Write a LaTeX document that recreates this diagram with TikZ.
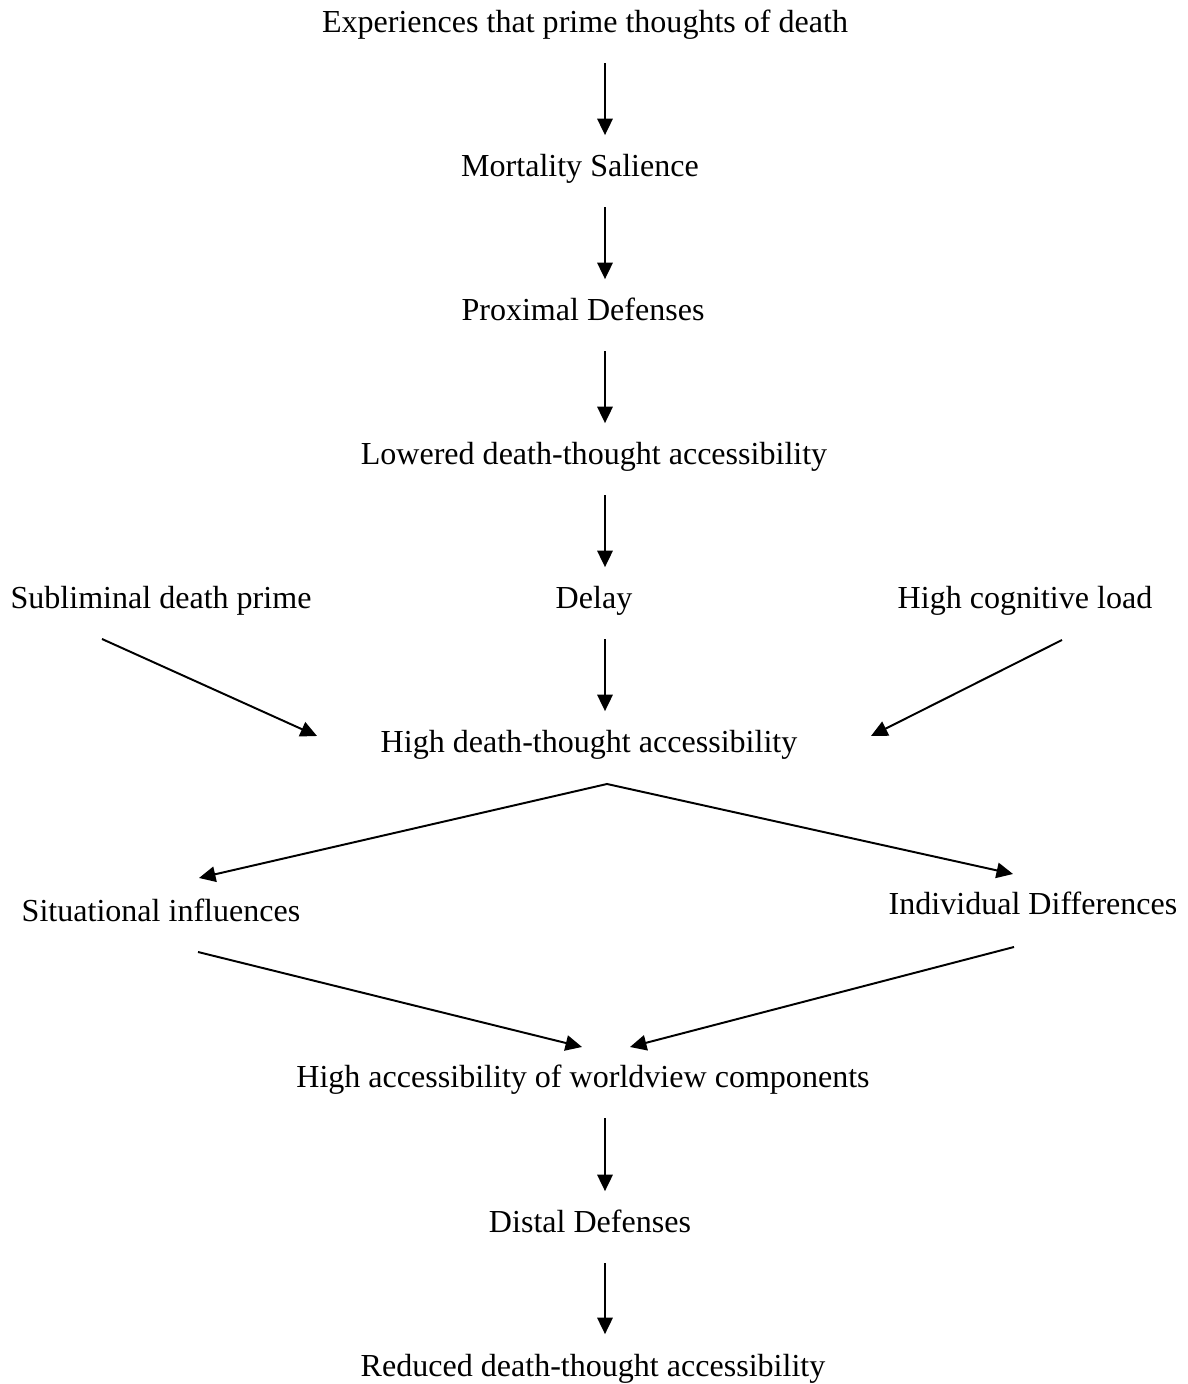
\documentclass[tikz,border=0pt]{standalone}
\usepackage{fontspec}
\setmainfont{Liberation Serif}
\usetikzlibrary{arrows.meta}

\begin{document}
\begin{tikzpicture}[
    x=0.3822pt, y=0.3822pt,
    >={Triangle[length=6.3pt, width=5.9pt]},
    txt/.style={inner sep=0pt, anchor=base, font=\fontsize{12.25}{14}\selectfont},
    arrow/.style={->, line width=0.75pt, color=black},
    vline/.style={arrow, shorten <=11.5pt, shorten >=16pt}
]
    \useasboundingbox (0,0) rectangle (1187,1384);
    \coordinate (col) at (605,0);

    \node[txt] (exp) at (585,1351) {Experiences that prime thoughts of death};
    \node[txt] (mort) at (580,1207) {Mortality Salience};
    \node[txt] (prox) at (583,1063) {Proximal Defenses};
    \node[txt] (lowered) at (594,919) {Lowered death-thought accessibility};
    \node[txt] (subl) at (161,775) {Subliminal death prime};
    \node[txt] (delay) at (594,775) {Delay};
    \node[txt] (load) at (1025,775) {High cognitive load};
    \node[txt] (hdta) at (589,631) {High death-thought accessibility};
    \node[txt] (situ) at (161,462) {Situational influences};
    \node[txt] (indiv) at (1033,469) {Individual Differences};
    \node[txt] (worldv) at (583,296) {High accessibility of worldview components};
    \node[txt] (distal) at (590,151) {Distal Defenses};
    \node[txt] (reduced) at (593,8) {Reduced death-thought accessibility};

    \coordinate (split) at ([shift={(18,-31)}]hdta.base);

    \draw[vline] (exp.base -| col) -- (mort.base -| col);
    \draw[vline] (mort.base -| col) -- (prox.base -| col);
    \draw[vline] (prox.base -| col) -- (lowered.base -| col);
    \draw[vline] (lowered.base -| col) -- (delay.base -| col);
    \draw[vline] (delay.base -| col) -- (hdta.base -| col);
    \draw[arrow] ([shift={(-59,-30)}]subl.base) -- ([shift={(-272,17)}]hdta.base);
    \draw[arrow] ([shift={(37,-31)}]load.base) -- ([shift={(282,17)}]hdta.base);
    \draw[arrow, <->] ([shift={(38,44)}]situ.base) -- (split) -- ([shift={(-20,41)}]indiv.base);
    \draw[arrow] ([shift={(37,-30)}]situ.base) -- ([shift={(-1,41)}]worldv.base);
    \draw[arrow] ([shift={(-19,-32)}]indiv.base) -- ([shift={(47,41)}]worldv.base);
    \draw[vline] (worldv.base -| col) -- (distal.base -| col);
    \draw[vline] (distal.base -| col) -- (reduced.base -| col);
\end{tikzpicture}
\end{document}
